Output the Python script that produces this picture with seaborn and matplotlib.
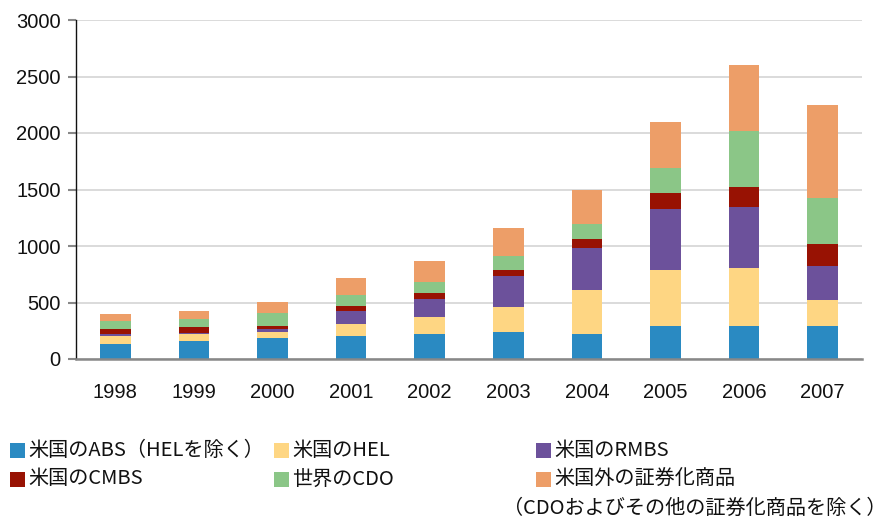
import numpy as np
import pandas as pd
import matplotlib
matplotlib.use("Agg")
import matplotlib.pyplot as plt
from matplotlib.patches import Rectangle
import seaborn as sns

years = ["1998", "1999", "2000", "2001", "2002", "2003", "2004", "2005", "2006", "2007"]
us_abs  = [135, 161, 188, 206, 223, 241, 223, 288, 288, 294]
us_hel  = [71, 63, 54, 108, 150, 221, 389, 500, 518, 229]
us_rmbs = [18, 9, 24, 108, 159, 273, 370, 538, 538, 300]
us_cmbs = [45, 54, 30, 44, 53, 53, 79, 141, 176, 194]
world_cdo = [69, 69, 111, 102, 100, 126, 136, 224, 494, 409]
non_us  = [57, 66, 95, 146, 182, 244, 300, 403, 591, 826]

series_labels = ["米国のABS（HELを除く）", "米国のHEL", "米国のRMBS",
                 "米国のCMBS", "世界のCDO", "米国外の証券化商品"]
extra_label = "（CDOおよびその他の証券化商品を除く）"
colors = ["#2a8ac2", "#fed683", "#6c519b", "#981203", "#8bc687", "#ed9e68"]
yticks = [0, 500, 1000, 1500, 2000, 2500, 3000]

sns.set_theme(style="white")
plt.rcParams['font.family'] = ['Liberation Sans', 'Noto Sans CJK JP', 'DejaVu Sans']

fig = plt.figure(figsize=(8.88, 5.18), dpi=100)
ax = fig.add_axes([76/888, 1-359/518, (862-76)/888, (359-20)/518])

series = [us_abs, us_hel, us_rmbs, us_cmbs, world_cdo, non_us]
cum = np.cumsum(np.array(series), axis=0)
df = pd.DataFrame({"year": years})
for i in range(len(series) - 1, -1, -1):
    df["v"] = cum[i]
    sns.barplot(data=df, x="year", y="v", color=colors[i], saturation=1,
                width=0.39, ax=ax, zorder=3, edgecolor="none", linewidth=0)

ax.set_xlim(-0.5, len(years) - 0.5)
ax.set_ylim(0, 3000)
ax.set_yticks(yticks)
ax.set_yticklabels([str(t) for t in yticks], fontsize=14.5, color="#111111")
ax.set_xticks(range(len(years)))
ax.set_xticklabels(years, fontsize=14.5, color="#111111")
ax.set_xticks(np.arange(-0.5, len(years), 1.0), minor=True)
ax.tick_params(axis="x", which="major", length=0, pad=17)
ax.tick_params(axis="x", which="minor", length=6, width=1.2, color="#111111", direction="out")
ax.tick_params(axis="y", which="major", length=6, width=1.5, color="#888888", direction="out", pad=5, left=True)
ax.set_xlabel("")
ax.set_ylabel("")
ax.grid(axis="y", color="#d4d4d4", linewidth=1.2, zorder=0)
ax.set_axisbelow(True)
for s in ["top", "right"]:
    ax.spines[s].set_visible(False)
ax.spines["left"].set_color("#111111")
ax.spines["left"].set_linewidth(1.0)
ax.spines["bottom"].set_color("#888888")
ax.spines["bottom"].set_linewidth(1.8)
ax.spines["bottom"].set_zorder(5)

# legend (manual)
col_x = [10, 274, 536]
row_y = [450, 479]
for i, lab in enumerate(series_labels):
    r, c = divmod(i, 3)
    x = col_x[c]
    y = row_y[r]
    fig.patches.append(Rectangle((x/888, 1-(y+7.5)/518), 15/888, 15/518,
                                 transform=fig.transFigure, facecolor=colors[i],
                                 edgecolor="none"))
    fig.text((x+18)/888, 1-y/518, lab, fontsize=14.5, va="center", ha="left",
             family=['Noto Sans CJK JP', 'DejaVu Sans'], color="#111111")
fig.text(886/888, 1-508/518, extra_label, fontsize=14.5, va="center", ha="right",
         family=['Noto Sans CJK JP', 'DejaVu Sans'], color="#111111")

fig.savefig("out.png", dpi=100)
